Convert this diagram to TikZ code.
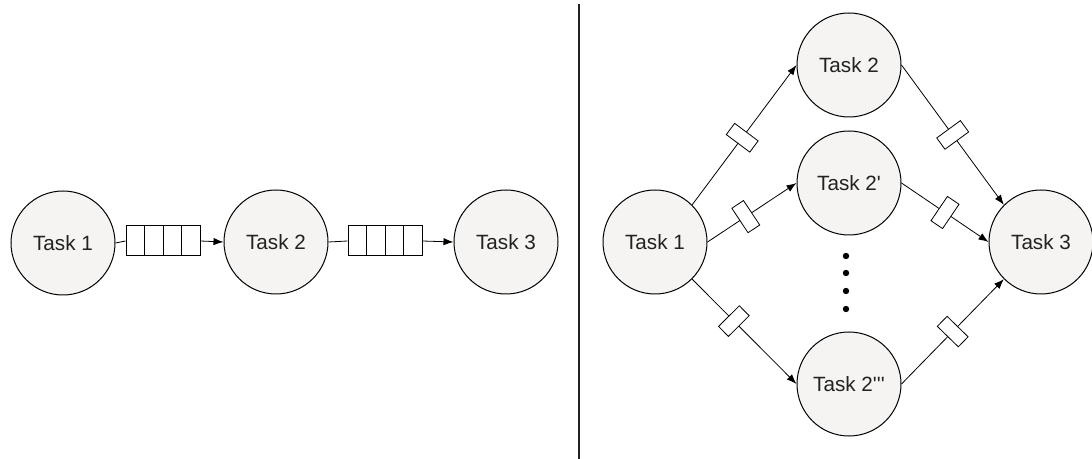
\documentclass[tikz,border=0pt]{standalone}
\usepackage{fontspec}
\setmainfont{Liberation Sans}
\usepackage{tikz}
\usetikzlibrary{calc,arrows.meta}
\definecolor{taskfill}{RGB}{245,244,242}
\definecolor{taskink}{RGB}{34,34,34}
\tikzstyle{task}=[fill=taskfill, draw=black, line width=0.75pt, shape=circle, minimum size=78pt, inner sep=0pt, text=taskink, font=\fontsize{15.5}{18}\selectfont]
\tikzstyle{queue}=[fill=white, draw=black, line width=0.75pt, shape=rectangle, minimum width=55.5pt, minimum height=22.5pt, inner sep=0pt, path picture={\foreach \k in {1,2,3} \draw[line width=0.75pt] ($(path picture bounding box.south west)!\k/4!(path picture bounding box.south east)$) -- ($(path picture bounding box.north west)!\k/4!(path picture bounding box.north east)$);}]
\tikzstyle{slot}=[fill=white, draw=black, line width=0.6pt, shape=rectangle, minimum width=10.5pt, minimum height=22pt, inner sep=0pt, sloped]
\tikzstyle{bullet}=[fill=black, draw=none, shape=circle, minimum size=4.8pt, inner sep=0pt]
\tikzstyle{ed}=[-, draw=black, line width=0.6pt]
\tikzstyle{arr}=[-{Latex[length=7.5pt,width=5.5pt]}, draw=black, line width=0.6pt]
\begin{document}
\begin{tikzpicture}[x=0.75pt, y=-0.75pt]
	\useasboundingbox (0,0) rectangle (1092,459);
	% left: pipeline
	\node [style=task] (0) at (63, 243) {Task 1};
	\node [style=task] (1) at (276, 242) {Task 2};
	\node [style=task] (2) at (506, 242) {Task 3};
	\node [style=queue] (3) at (163, 241) {};
	\node [style=queue] (4) at (385, 241) {};
	\draw [style=ed] (0.east) to (3.west);
	\draw [style=arr] (3.east) to (1.west);
	\draw [style=ed] (1.east) to (4.west);
	\draw [style=arr] (4.east) to (2.west);
	% divider
	\coordinate (d0) at (579, 4);
	\coordinate (d1) at (579, 459);
	\draw [line width=0.9pt, draw=taskink] (d0) to (d1);
	% right: fan out / fan in
	\node [style=task] (5) at (655, 242) {Task 1};
	\node [style=task] (6) at (849, 65) {Task 2};
	\node [style=task] (7) at (849, 183) {Task 2\textquotesingle};
	\node [style=task] (8) at (849, 384) {Task 2\textquotesingle\textquotesingle\textquotesingle};
	\node [style=task] (9) at (1041, 242) {Task 3};
	\node [style=bullet] (10) at (846, 256) {};
	\node [style=bullet] (11) at (846, 273) {};
	\node [style=bullet] (12) at (846, 291) {};
	\node [style=bullet] (13) at (846, 309) {};
	\draw [style=arr] (5.north east) to node[style=slot, pos=0.48] (14) {} (6.west);
	\draw [style=arr] (5.east) to node[style=slot, pos=0.43] (15) {} (7.west);
	\draw [style=arr] (5.south east) to node[style=slot, pos=0.4] (16) {} (8.west);
	\draw [style=arr] (6.east) to node[style=slot, pos=0.5] (17) {} (9.north west);
	\draw [style=arr] (7.east) to node[style=slot, pos=0.5] (18) {} (9.west);
	\draw [style=arr] (8.east) to node[style=slot, pos=0.5] (19) {} (9.south west);
\end{tikzpicture}
\end{document}
